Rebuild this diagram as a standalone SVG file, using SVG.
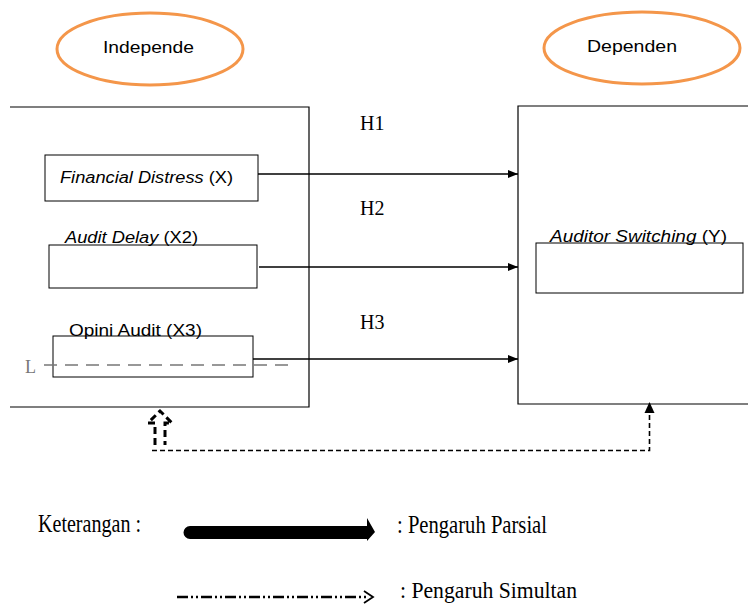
<svg xmlns="http://www.w3.org/2000/svg" width="748" height="605" viewBox="0 0 748 605">
<style>
.box{fill:#fff;stroke:#000;stroke-width:1}
.frame{fill:none;stroke:#000;stroke-width:1.2}
.ell{fill:#fff;stroke:#f4964a;stroke-width:3}
.sans{font-family:"Liberation Sans",Arial,sans-serif;font-size:16px;fill:#000}
.serif{font-family:"Liberation Serif","Times New Roman",serif;fill:#000}
.conn{stroke:#000;stroke-width:1.6;fill:none}
</style>
<defs>
<marker id="ah" markerWidth="10" markerHeight="8" refX="10" refY="4" orient="auto" markerUnits="userSpaceOnUse">
<path d="M0,0 L10,4 L0,8 Z" fill="#000"/>
</marker>
</defs>
<g id="ellipse-independen">
<ellipse class="ell" cx="150" cy="49" rx="93" ry="36"/>
<text class="sans" x="103" y="53" font-size="17" textLength="91" lengthAdjust="spacingAndGlyphs">Independe</text>
</g>
<g id="ellipse-dependen">
<ellipse class="ell" cx="642" cy="48" rx="98" ry="36"/>
<text class="sans" x="587" y="52" font-size="17" textLength="90" lengthAdjust="spacingAndGlyphs">Dependen</text>
</g>
<g id="group-independen">
<path class="frame" d="M10,107 H309 V407 H10"/>
</g>
<g id="group-dependen">
<path class="frame" d="M748,106 H518 V404 H748"/>
</g>
<g id="node-x1">
<rect class="box" x="45" y="155" width="213" height="46"/>
<text class="sans" x="60" y="183" textLength="173" lengthAdjust="spacingAndGlyphs"><tspan font-style="italic">Financial Distress</tspan> (X)</text>
</g>
<g id="node-x2">
<rect class="box" x="49" y="245" width="208" height="43"/>
<text class="sans" x="65" y="243" textLength="133" lengthAdjust="spacingAndGlyphs"><tspan font-style="italic">Audit Delay</tspan> (X2)</text>
</g>
<g id="node-x3">
<rect class="box" x="53" y="336" width="200" height="41"/>
<text class="sans" x="69" y="336" textLength="133" lengthAdjust="spacingAndGlyphs">Opini Audit (X3)</text>
<line x1="44" y1="365" x2="292" y2="365" stroke="#777" stroke-width="1.5" stroke-dasharray="13,8"/>
<text x="25" y="373" font-family="Liberation Serif,serif" font-size="18" fill="#777">L</text>
</g>
<g id="node-y">
<rect class="box" x="536" y="243" width="207" height="50"/>
<text class="sans" x="550" y="242" textLength="177" lengthAdjust="spacingAndGlyphs"><tspan font-style="italic">Auditor Switching</tspan> (Y)</text>
</g>
<g id="connectors">
<line class="conn" x1="258" y1="174" x2="518" y2="174" marker-end="url(#ah)"/>
<line class="conn" x1="259" y1="267" x2="518" y2="267" marker-end="url(#ah)"/>
<line class="conn" x1="253" y1="359" x2="518" y2="359" marker-end="url(#ah)"/>
<path d="M152,450.5 H649.5 V412" fill="none" stroke="#000" stroke-width="1.6" stroke-dasharray="5,3"/>
<path d="M644.5,413 L649.5,402 L654.5,413 Z" fill="#000"/>
<path d="M155,445 V423 H148 L160,411 L172,423 H165 V445" fill="none" stroke="#000" stroke-width="3" stroke-dasharray="7,4"/>
<text class="serif" x="360" y="130" font-size="20">H1</text>
<text class="serif" x="360" y="215" font-size="20">H2</text>
<text class="serif" x="360" y="329" font-size="20">H3</text>
</g>
<g id="legend">
<text class="serif" x="38" y="532" font-size="25" textLength="103" lengthAdjust="spacingAndGlyphs">Keterangan :</text>
<path d="M190,526 H367 V518 L375,532 L367,541 V539 H190 A6.5,6.5 0 0 1 190,526 Z" fill="#000"/>
<text class="serif" x="397" y="533" font-size="26" textLength="150" lengthAdjust="spacingAndGlyphs">: Pengaruh Parsial</text>
<line x1="177" y1="597" x2="366" y2="597" stroke="#000" stroke-width="2.5" stroke-dasharray="11,3,2,3,2,3"/>
<path d="M364,591 L373,597 L364,603" fill="none" stroke="#000" stroke-width="1.8"/>
<text class="serif" x="400" y="598" font-size="24" textLength="177" lengthAdjust="spacingAndGlyphs">: Pengaruh Simultan</text>
</g>
</svg>
